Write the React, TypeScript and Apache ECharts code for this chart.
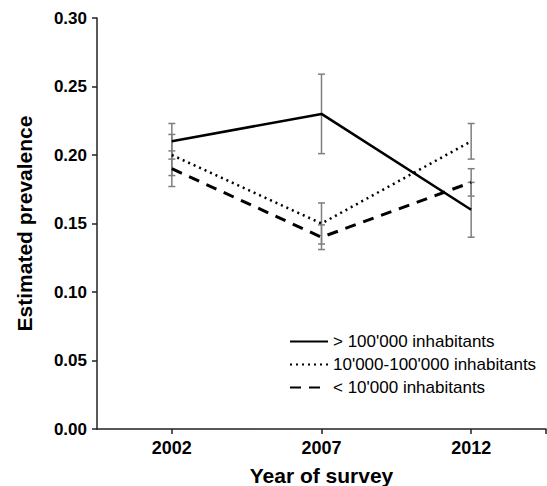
import React, { useEffect, useRef } from "react";
import * as echarts from "echarts";

const years = [2002, 2007, 2012];
const seriesNames = ["> 100'000 inhabitants", "10'000-100'000 inhabitants", "< 10'000 inhabitants"];
const largeVals = [0.21, 0.23, 0.16];
const largeLo = [0.197, 0.201, 0.14];
const largeHi = [0.223, 0.259, 0.18];
const mediumVals = [0.2, 0.15, 0.21];
const mediumLo = [0.185, 0.135, 0.197];
const mediumHi = [0.215, 0.165, 0.223];
const smallVals = [0.19, 0.14, 0.18];
const smallLo = [0.177, 0.131, 0.17];
const smallHi = [0.203, 0.149, 0.19];
const yTicks = [0, 0.05, 0.1, 0.15, 0.2, 0.25, 0.3];

const FONT = "'Liberation Sans', Arial, sans-serif";

export default function App() {
  const ref = useRef<HTMLDivElement>(null);
  useEffect(() => {
    if (!ref.current) return;
    const chart = echarts.init(ref.current, undefined, { renderer: "svg" });
    const pairs = (vals: number[]) => years.map((y, i) => [y, vals[i]]);
    const errData = [
      ...years.map((y, i) => [y, largeLo[i], largeHi[i]]),
      ...years.map((y, i) => [y, mediumLo[i], mediumHi[i]]),
      ...years.map((y, i) => [y, smallLo[i], smallHi[i]]),
    ];
    const grey = "#7f7f7f";
    chart.setOption({
      animation: false,
      backgroundColor: "#ffffff",
      textStyle: { fontFamily: FONT },
      grid: { left: 97, right: 1, top: 18, bottom: 57, containLabel: false, outerBoundsMode: "none" },
      legend: {
        orient: "vertical",
        left: 289,
        top: 333,
        itemWidth: 38,
        itemHeight: 14,
        itemGap: 6,
        padding: 0,
        data: seriesNames,
        itemStyle: { opacity: 0 },
        textStyle: { fontSize: 17, lineHeight: 17, color: "#000", fontFamily: FONT },
      },
      xAxis: {
        type: "value",
        min: 1999.5,
        max: 2014.5,
        name: "Year of survey",
        nameLocation: "middle",
        nameGap: 36,
        nameTextStyle: { fontSize: 21, fontWeight: "bold", color: "#000", fontFamily: FONT },
        axisLine: { lineStyle: { color: "#222", width: 1.5 } },
        axisTick: { show: true, length: 5, customValues: [...years, 2014.5], lineStyle: { color: "#222", width: 1.5 } },
        axisLabel: {
          customValues: years,
          fontSize: 18,
          fontWeight: "bold",
          color: "#000",
          margin: 10,
          formatter: (v: number) => String(v),
        },
        splitLine: { show: false },
      },
      yAxis: {
        type: "value",
        min: 0,
        max: 0.3,
        interval: 0.05,
        name: "Estimated prevalence",
        nameLocation: "middle",
        nameGap: 62,
        nameTextStyle: { fontSize: 21, fontWeight: "bold", color: "#000", fontFamily: FONT },
        axisLine: { show: true, lineStyle: { color: "#222", width: 1.5 } },
        axisTick: { show: true, length: 5, customValues: yTicks, lineStyle: { color: "#222", width: 1.5 } },
        axisLabel: {
          fontSize: 17,
          fontWeight: "bold",
          color: "#000",
          margin: 10,
          formatter: (v: number) => v.toFixed(2),
        },
        splitLine: { show: false },
      },
      series: [
        {
          type: "custom",
          name: "errors",
          data: errData,
          encode: { x: 0, y: [1, 2] },
          z: 1,
          renderItem: (params: any, api: any) => {
            const x = api.value(0);
            const lo = api.coord([x, api.value(1)]);
            const hi = api.coord([x, api.value(2)]);
            const w = 3.5;
            const st = { stroke: grey, lineWidth: 1.5 };
            return {
              type: "group",
              children: [
                { type: "line", shape: { x1: lo[0], y1: lo[1], x2: hi[0], y2: hi[1] }, style: st },
                { type: "line", shape: { x1: lo[0] - w, y1: lo[1], x2: lo[0] + w, y2: lo[1] }, style: st },
                { type: "line", shape: { x1: hi[0] - w, y1: hi[1], x2: hi[0] + w, y2: hi[1] }, style: st },
              ],
            };
          },
        },
        {
          type: "line",
          name: seriesNames[0],
          data: pairs(largeVals),
          symbol: "none",
          z: 3,
          itemStyle: { color: "#000" },
          lineStyle: { color: "#000", width: 2.5, type: "solid" },
        },
        {
          type: "line",
          name: seriesNames[1],
          data: pairs(mediumVals),
          symbol: "none",
          z: 3,
          itemStyle: { color: "#000" },
          lineStyle: { color: "#000", width: 2.5, type: [2, 4] },
        },
        {
          type: "line",
          name: seriesNames[2],
          data: pairs(smallVals),
          symbol: "none",
          z: 3,
          itemStyle: { color: "#000" },
          lineStyle: { color: "#000", width: 3, type: [11, 8] },
        },
      ],
    });
    return () => chart.dispose();
  }, []);
  return (
    <div
      ref={ref}
      style={{ position: "absolute", left: 0, top: 0, width: 547, height: 486, background: "#fff" }}
    />
  );
}
